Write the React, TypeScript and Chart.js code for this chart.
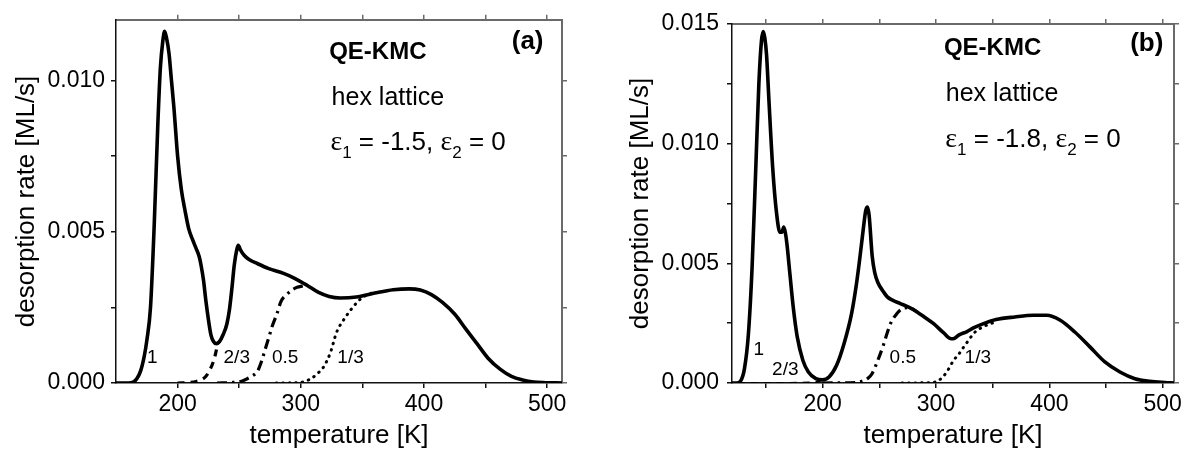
import React, { useEffect, useRef } from 'react';
import { Chart, registerables } from 'chart.js';

Chart.register(...registerables);

const FONT = '"Liberation Sans", Arial, Helvetica, sans-serif';
const SERIF = '"Liberation Serif", "Times New Roman", serif';

// ---------------- Panel (a): eps1 = -1.5 ----------------
const tempA1 = [150, 160, 164, 167, 170, 173, 175, 178, 181, 184, 186, 188, 189.5, 191, 193, 195, 197, 200, 203, 206, 209, 212, 215, 217.5, 219, 221, 223, 225, 227, 229, 231.5, 234, 237, 240, 242, 244, 246, 248, 249.2, 251, 254, 258, 265, 274, 286, 295, 305, 314, 323, 332, 345, 360, 375, 388, 397, 406, 415, 425, 434, 443, 452, 462, 471, 480, 489, 499, 512];
const rateA1 = [0, 0, 0.00003, 0.00015, 0.0004, 0.0009, 0.0014, 0.0025, 0.0052, 0.0086, 0.0104, 0.0113, 0.01162, 0.0114, 0.0109, 0.01, 0.0091, 0.0075, 0.0064, 0.0057, 0.0051, 0.00475, 0.00445, 0.00418, 0.0039, 0.0034, 0.0027, 0.0021, 0.0016, 0.00138, 0.0013, 0.00137, 0.0016, 0.00195, 0.0024, 0.0031, 0.0039, 0.0044, 0.00455, 0.0044, 0.00422, 0.00408, 0.00394, 0.00378, 0.00362, 0.00346, 0.00323, 0.003, 0.00286, 0.00281, 0.00284, 0.00297, 0.00308, 0.00311, 0.00307, 0.00292, 0.00266, 0.00227, 0.00178, 0.0013, 0.00082, 0.00045, 0.00022, 0.0001, 0.00003, 0.00001, 0];
const tempA23 = [200, 210, 215, 220, 223, 226, 229, 231, 232.5, 234];
const rateA23 = [0, 0.00002, 0.00005, 0.00012, 0.00022, 0.00042, 0.0007, 0.001, 0.0013, 0.00137];
const tempA05 = [232, 245, 252, 256, 260, 265, 268, 271, 274, 277, 280.5, 284, 288.5, 293, 297, 301, 305];
const rateA05 = [0, 0.00002, 0.00006, 0.00013, 0.00022, 0.0004, 0.0007, 0.0011, 0.0015, 0.0019, 0.00227, 0.0027, 0.00292, 0.00308, 0.00316, 0.0032, 0.00323];
const tempA13 = [280, 300, 305, 309, 314, 318, 324, 329, 336, 343, 349.5, 357.6, 362];
const rateA13 = [0, 0.00002, 0.00008, 0.00016, 0.00033, 0.0005, 0.001, 0.00167, 0.00216, 0.00254, 0.00281, 0.00297, 0.003];

// ---------------- Panel (b): eps1 = -1.8 ----------------
const tempB1 = [120, 124, 127.8, 131, 134.4, 137.7, 141, 143.7, 146, 147.5, 149, 150.5, 152.6, 155.9, 159.3, 162.3, 164, 165.7, 167, 168.5, 171, 174.2, 177.5, 182.5, 187.4, 194, 200, 205.6, 212.3, 218.9, 225.5, 230, 233.5, 236, 238, 239.5, 241, 243.7, 246, 248.7, 253.8, 257, 262, 268.5, 276.8, 283.3, 290, 297.9, 306.6, 313.5, 316, 320, 327.4, 333, 342, 353, 369.5, 386, 397.7, 409.3, 422.5, 435.8, 449, 462.3, 475.5, 488.7, 502, 510];
const rateB1 = [0, 0, 0.0001, 0.0006, 0.002, 0.0048, 0.009, 0.0125, 0.0143, 0.01468, 0.0144, 0.0137, 0.0118, 0.009, 0.0071, 0.0063, 0.0063, 0.00652, 0.0063, 0.0058, 0.0046, 0.0031, 0.00195, 0.00095, 0.00046, 0.00018, 0.00013, 0.00025, 0.00074, 0.00165, 0.0029, 0.0042, 0.0055, 0.0065, 0.0072, 0.00735, 0.007, 0.0053, 0.0046, 0.0042, 0.0038, 0.0036, 0.00345, 0.00332, 0.00315, 0.00297, 0.00275, 0.00248, 0.0021, 0.00185, 0.00186, 0.002, 0.00215, 0.0023, 0.00248, 0.00265, 0.00276, 0.00283, 0.00283, 0.00263, 0.00213, 0.00151, 0.00088, 0.00046, 0.00018, 0.00007, 0.00002, 0];
const tempB23 = [125, 160, 190, 200, 205.6];
const rateB23 = [0, 0, 0.00002, 0.00013, 0.00025];
const tempB05 = [200, 230, 236, 240, 243.7, 248.7, 253.7, 257, 260, 265.5, 270, 275, 279, 283.3];
const rateB05 = [0, 0.00002, 0.0001, 0.0002, 0.0004, 0.00095, 0.0016, 0.0021, 0.0025, 0.0029, 0.0031, 0.00315, 0.0031, 0.00297];
const tempB13 = [270, 297, 302, 306, 310, 315.6, 320, 324.4, 329, 333.2, 338, 342, 351];
const rateB13 = [0, 0.00002, 0.0001, 0.00025, 0.0005, 0.00095, 0.0012, 0.0015, 0.0018, 0.00207, 0.00225, 0.00236, 0.00253];

// ---------------- Axis ticks ----------------
const xTicksA = [200, 250, 300, 350, 400, 450, 500];
const xTicksB = [150, 200, 250, 300, 350, 400, 450, 500];
const xMajor = [200, 300, 400, 500];
const yTicksA = [0, 0.0025, 0.005, 0.0075, 0.01];
const yMajorA = [0, 0.005, 0.01];
const yTicksB = [0, 0.0025, 0.005, 0.0075, 0.01, 0.0125, 0.015];
const yMajorB = [0, 0.005, 0.01, 0.015];

const xTitle = 'temperature [K]';
const yTitle = 'desorption rate [ML/s]';

const DARK = '#111111';
const LIGHT = '#6a6a6a';

const pts = (t: number[], r: number[]) => t.map((x, i) => ({ x, y: r[i] }));
const isIn = (v: number, list: number[]) => list.some((m) => Math.abs(m - v) < 1e-9);

type Ann = { text: string; x: number; y: number; size: number; bold?: boolean; align?: CanvasTextAlign };

function makeAnnotPlugin(labels: Ann[], eps: { x: number; y: number; value: string }) {
  return {
    id: 'annot',
    afterDraw(chart: any) {
      const { ctx } = chart;
      const xs = chart.scales.x;
      const ys = chart.scales.y;
      ctx.save();
      ctx.fillStyle = '#000';
      for (const a of labels) {
        ctx.font = `${a.bold ? 'bold ' : ''}${a.size}px ${FONT}`;
        ctx.textAlign = a.align || 'left';
        ctx.textBaseline = a.align === 'center' ? 'middle' : 'alphabetic';
        ctx.fillText(a.text, xs.getPixelForValue(a.x), ys.getPixelForValue(a.y));
      }
      // epsilon line with subscripts
      let px = xs.getPixelForValue(eps.x);
      const py = ys.getPixelForValue(eps.y);
      const parts: { t: string; f: string; dy: number }[] = [
        { t: '\u03b5', f: `28px ${SERIF}`, dy: 0 },
        { t: '1', f: `17px ${FONT}`, dy: 8 },
        { t: ` = ${eps.value}, `, f: `26px ${FONT}`, dy: 0 },
        { t: '\u03b5', f: `28px ${SERIF}`, dy: 0 },
        { t: '2', f: `17px ${FONT}`, dy: 8 },
        { t: ' = 0', f: `26px ${FONT}`, dy: 0 },
      ];
      ctx.textAlign = 'left';
      ctx.textBaseline = 'alphabetic';
      for (const p of parts) {
        ctx.font = p.f;
        ctx.fillText(p.t, px, py + p.dy);
        px += ctx.measureText(p.t).width;
      }
      ctx.restore();
    },
  };
}

type PanelCfg = {
  xMin: number; xMax: number; yMax: number;
  xTicks: number[]; yTicks: number[]; yMajor: number[];
  left: number; right: number; top: number; bottom: number;
  yTitlePad: number; yTickPad: number;
};

function makeScales(p: PanelCfg) {
  const tickFont = { family: FONT, size: 23 };
  const titleFont = { family: FONT, size: 26 };
  return {
    x: {
      type: 'linear', position: 'bottom', min: p.xMin, max: p.xMax,
      afterBuildTicks: (s: any) => { s.ticks = p.xTicks.map((v) => ({ value: v })); },
      afterFit: (s: any) => { s.height = p.bottom; },
      ticks: { autoSkip: false, maxRotation: 0, color: '#000', font: tickFont, padding: 3,
        callback: (v: number) => (isIn(v, xMajor) ? String(v) : '') },
      grid: { drawOnChartArea: false, drawTicks: true, tickLength: 5, color: DARK, lineWidth: 1.5 },
      border: { display: true, color: DARK, width: 1.5 },
      title: { display: true, text: xTitle, color: '#000', font: titleFont, padding: { top: 0, bottom: 2 } },
    },
    x2: {
      type: 'linear', position: 'top', min: p.xMin, max: p.xMax,
      afterBuildTicks: (s: any) => { s.ticks = p.xTicks.map((v) => ({ value: v })); },
      afterFit: (s: any) => { s.height = p.top; },
      ticks: { autoSkip: false, maxRotation: 0, font: tickFont, callback: () => '' },
      grid: { drawOnChartArea: false, drawTicks: true, tickLength: 5, color: LIGHT, lineWidth: 1.5 },
      border: { display: true, color: LIGHT, width: 2 },
    },
    y: {
      type: 'linear', position: 'left', min: 0, max: p.yMax,
      afterBuildTicks: (s: any) => { s.ticks = p.yTicks.map((v) => ({ value: v })); },
      afterFit: (s: any) => { s.width = p.left; },
      ticks: { autoSkip: false, color: '#000', font: tickFont, padding: p.yTickPad,
        callback: (v: number) => (isIn(v, p.yMajor) ? v.toFixed(3) : '') },
      grid: { drawOnChartArea: false, drawTicks: true, tickLength: 5, color: DARK, lineWidth: 1.5 },
      border: { display: true, color: DARK, width: 1.5 },
      title: { display: true, text: yTitle, color: '#000', font: titleFont, padding: { top: p.yTitlePad, bottom: 0 } },
    },
    y2: {
      type: 'linear', position: 'right', min: 0, max: p.yMax,
      afterBuildTicks: (s: any) => { s.ticks = p.yTicks.map((v) => ({ value: v })); },
      afterFit: (s: any) => { s.width = p.right; },
      ticks: { autoSkip: false, font: tickFont, callback: () => '' },
      grid: { drawOnChartArea: false, drawTicks: true, tickLength: 5, color: LIGHT, lineWidth: 1.5 },
      border: { display: true, color: LIGHT, width: 2 },
    },
  };
}

function datasets(s1: any[], s23: any[], s05: any[], s13: any[], thinDash: boolean) {
  const base = { borderColor: '#000', pointRadius: 0, fill: false, cubicInterpolationMode: 'monotone', xAxisID: 'x', yAxisID: 'y' };
  return [
    { ...base, label: '1', data: s1, borderWidth: 3.6, order: 0 },
    { ...base, label: '2/3', data: s23, borderWidth: thinDash ? 2.2 : 3.2, borderDash: [7, 6], order: 1 },
    { ...base, label: '0.5', data: s05, borderWidth: 3.2, borderDash: [10, 5, 2.5, 5], order: 2 },
    { ...base, label: '1/3', data: s13, borderWidth: 3, borderDash: [0.5, 6], borderCapStyle: 'round', order: 3 },
  ];
}

function Panel(props: {
  left: number; width: number; cfg: PanelCfg; data: any[]; labels: Ann[]; eps: { x: number; y: number; value: string };
}) {
  const ref = useRef<HTMLCanvasElement>(null);
  useEffect(() => {
    if (!ref.current) return;
    const chart = new Chart(ref.current, {
      type: 'line',
      data: { datasets: props.data },
      options: {
        responsive: false,
        animation: false,
        devicePixelRatio: 1,
        layout: { padding: 0 },
        plugins: { legend: { display: false }, tooltip: { enabled: false } },
        scales: makeScales(props.cfg) as any,
      },
      plugins: [makeAnnotPlugin(props.labels, props.eps)],
    } as any);
    return () => chart.destroy();
  }, []);
  return (
    <canvas
      ref={ref}
      width={props.width}
      height={453}
      style={{ position: 'absolute', left: props.left, top: 0, width: props.width, height: 453 }}
    />
  );
}

const cfgA: PanelCfg = {
  xMin: 150, xMax: 512, yMax: 0.012, xTicks: xTicksA, yTicks: yTicksA, yMajor: yMajorA,
  left: 116, right: 35, top: 13, bottom: 70, yTitlePad: 11, yTickPad: 6,
};
const cfgB: PanelCfg = {
  xMin: 120, xMax: 510, yMax: 0.015, xTicks: xTicksB, yTicks: yTicksB, yMajor: yMajorB,
  left: 135, right: 20, top: 24, bottom: 70, yTitlePad: 28, yTickPad: 8,
};

const labelsA: Ann[] = [
  { text: 'QE-KMC', x: 323, y: 0.0107, size: 24, bold: true },
  { text: 'hex lattice', x: 325, y: 0.0092, size: 25 },
  { text: '(a)', x: 497, y: 0.01104, size: 26, bold: true, align: 'right' },
  { text: '1', x: 179.5, y: 0.00084, size: 19, align: 'center' },
  { text: '2/3', x: 248, y: 0.00084, size: 19, align: 'center' },
  { text: '0.5', x: 287.3, y: 0.00084, size: 19, align: 'center' },
  { text: '1/3', x: 340.4, y: 0.00084, size: 19, align: 'center' },
];
const labelsB: Ann[] = [
  { text: 'QE-KMC', x: 307, y: 0.0137, size: 24, bold: true },
  { text: 'hex lattice', x: 308.6, y: 0.0118, size: 25 },
  { text: '(b)', x: 500.6, y: 0.01387, size: 26, bold: true, align: 'right' },
  { text: '1', x: 143.6, y: 0.00137, size: 19, align: 'center' },
  { text: '2/3', x: 167, y: 0.00055, size: 19, align: 'center' },
  { text: '0.5', x: 270.7, y: 0.00105, size: 19, align: 'center' },
  { text: '1/3', x: 336.9, y: 0.00105, size: 19, align: 'center' },
];

export default function App() {
  const dataA = datasets(pts(tempA1, rateA1), pts(tempA23, rateA23), pts(tempA05, rateA05), pts(tempA13, rateA13), false);
  const dataB = datasets(pts(tempB1, rateB1), pts(tempB23, rateB23), pts(tempB05, rateB05), pts(tempB13, rateB13), true);
  return (
    <div style={{ position: 'absolute', left: 0, top: 0, width: 1194, height: 453, background: '#fff', overflow: 'hidden' }}>
      <Panel left={0} width={597} cfg={cfgA} data={dataA} labels={labelsA} eps={{ x: 324, y: 0.0077, value: '-1.5' }} />
      <Panel left={597} width={597} cfg={cfgB} data={dataB} labels={labelsB} eps={{ x: 308.2, y: 0.00987, value: '-1.8' }} />
    </div>
  );
}
